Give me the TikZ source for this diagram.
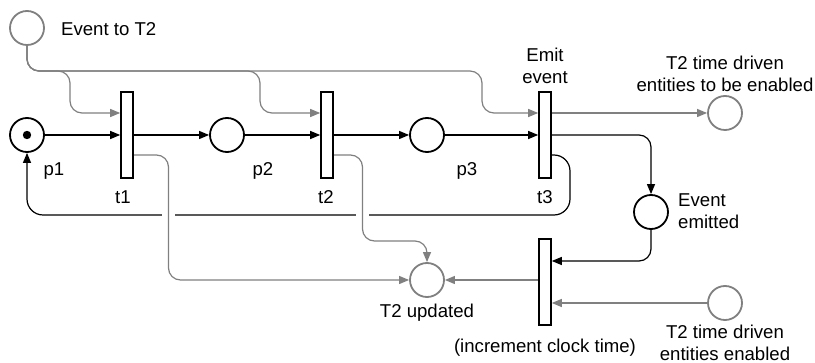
\documentclass[tikz,border=0pt]{standalone}
\usepackage{fontspec}
\setmainfont{Liberation Sans}
\usetikzlibrary{arrows.meta}
\definecolor{gr}{RGB}{128,128,128}
\begin{document}
\begin{tikzpicture}[x=1pt,y=-1pt,
  every node/.style={font=\fontsize{18.6}{22}\selectfont, inner sep=0pt},
  place/.style={circle, draw=black, line width=1.8pt, minimum size=34pt, fill=white},
  gplace/.style={place, draw=gr},
  trans/.style={rectangle, draw=black, line width=1.6pt, minimum width=12pt, minimum height=86pt, fill=white},
  barc/.style={draw=black, line width=1.2pt, -{Triangle[length=10pt,width=8pt]}, rounded corners=12pt},
  garc/.style={draw=gr, line width=1.2pt, -{Triangle[length=10pt,width=8pt]}, rounded corners=12pt},
  lbl/.style={text=black, align=center}
]
\useasboundingbox (0,0) rectangle (815,363);

% places and transitions
\node[gplace] (e0) at (27,28) {};
\node[place] (p1) at (27,135) {};
\node[place] (p2) at (227,135) {};
\node[place] (p3) at (427,135) {};
\node[place] (ee) at (651,212) {};
\node[gplace] (tt) at (725,113) {};
\node[gplace] (tu) at (427,280) {};
\node[gplace] (ted) at (725,303) {};
\node[trans] (t1) at (127,135) {};
\node[trans] (t2) at (327,135) {};
\node[trans] (t3) at (545,135) {};
\node[trans] (t4) at (545,282) {};
\fill (p1.center) circle (4.2pt);

% black loop from t3 back to p1
\coordinate (lr) at (570,215);
\draw[barc, rounded corners=16pt] ([yshift=-20pt]t3.east) -| (lr) -| (p1.south);

% gaps in loop where gray lines cross
\coordinate (g1) at (168.5,215);
\coordinate (g2) at (362.5,215);
\fill[white] ([xshift=-6.5pt,yshift=-3pt]g1) rectangle ([xshift=6.5pt,yshift=3pt]g1);
\fill[white] ([xshift=-6.5pt,yshift=-3pt]g2) rectangle ([xshift=6.5pt,yshift=3pt]g2);

% gray arcs from Event to T2
\coordinate (h1) at (70,71);
\coordinate (h2) at (260,71);
\coordinate (h3) at (482,71);
\draw[garc] (e0.south) |- (h1) |- ([yshift=22pt]t1.west);
\draw[garc] (e0.south) |- (h2) |- ([yshift=22pt]t2.west);
\draw[garc] (e0.south) |- (h3) |- ([yshift=22pt]t3.west);
\draw[garc] ([yshift=22pt]t3.east) -- (tt.west);

% black main flow
\draw[barc] (p1) -- (t1);
\draw[barc] (t1) -- (p2);
\draw[barc] (p2) -- (t2);
\draw[barc] (t2) -- (p3);
\draw[barc] (p3) -- (t3);
\draw[barc] (t3.east) -| (ee.north);
\draw[barc] (ee.south) |- ([yshift=21pt]t4.east);

% gray arcs to T2 updated
\coordinate (v1) at (168.5,280);
\coordinate (v2) at (362.5,241);
\draw[garc] ([yshift=-20pt]t1.east) -| (v1) -- (tu.west);
\draw[garc] ([yshift=-20pt]t2.east) -| (v2) -| (tu.north);
\draw[garc] (t4.west |- tu.east) -- (tu.east);
\draw[garc] (ted.west) -- (t4.east |- ted.west);

% redraw transitions on top
\node[trans] at (t1) {};
\node[trans] at (t2) {};
\node[trans] at (t3) {};
\node[trans] at (t4) {};

% labels
\node[lbl, anchor=west] (le0) at (61,29) {Event to T2};
\node[lbl] (lp1) at (54,171) {p1};
\node[lbl] (lp2) at (263,171) {p2};
\node[lbl] (lp3) at (467,171) {p3};
\node[lbl] (lt1) at (123,197) {t1};
\node[lbl] (lt2) at (326,197) {t2};
\node[lbl] (lt3) at (545,197) {t3};
\node[lbl] (lt3b) at (545,66) {Emit\\event};
\node[lbl] (ltt) at (725,74) {T2 time driven\\entities to be enabled};
\node[lbl, align=left, anchor=west] (lee) at (678,211) {Event\\emitted};
\node[lbl] (ltu) at (427,313) {T2 updated};
\node[lbl] (lt4) at (545,348) {(increment clock time)};
\node[lbl] (lted) at (725,343) {T2 time driven\\entities enabled};
\end{tikzpicture}
\end{document}
